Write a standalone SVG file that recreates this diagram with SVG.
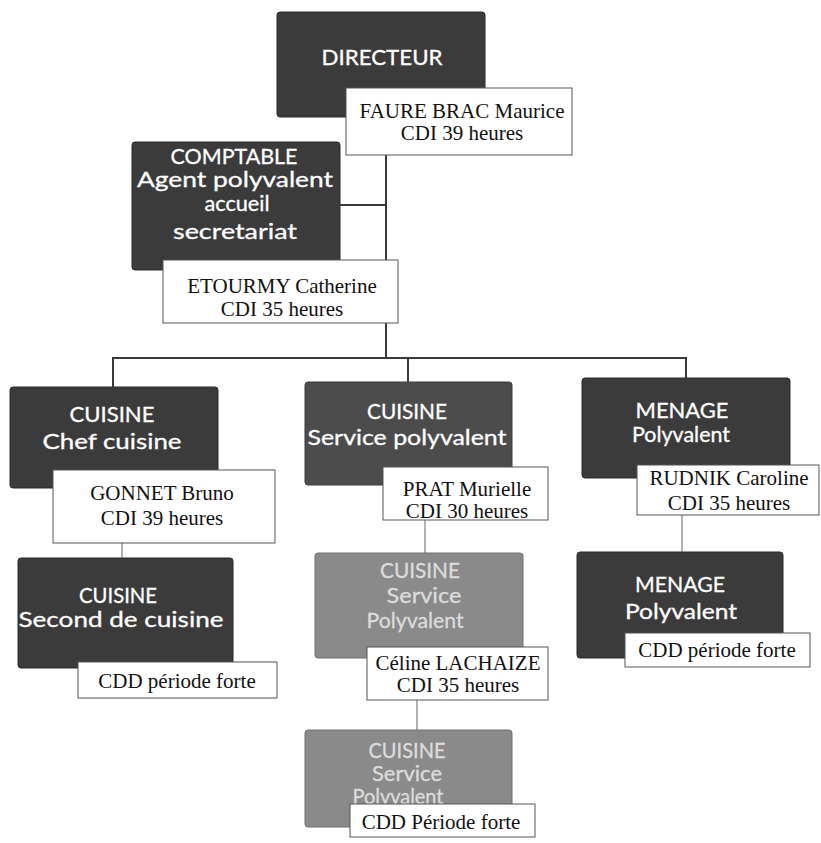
<svg xmlns="http://www.w3.org/2000/svg" width="821" height="843" viewBox="0 0 821 843">
<style>
.dark{fill:#3b3b3b;stroke:#2a2a2a;stroke-width:1}
.mid{fill:#4c4c4c;stroke:#3a3a3a;stroke-width:1}
.light{fill:#8a8a8a;stroke:#6e6e6e;stroke-width:1}
.lab{fill:#ffffff;stroke:#555;stroke-width:1}
.t{font-family:Lato,"Liberation Sans",sans-serif;font-size:21px;fill:#ffffff;stroke:#ffffff;stroke-width:0.3;text-anchor:middle}
.tl{font-family:Lato,"Liberation Sans",sans-serif;font-size:21px;fill:#dcdcdc;stroke:#dcdcdc;stroke-width:0.3;text-anchor:middle}
.s{font-family:"Liberation Serif",serif;font-size:21px;fill:#111;text-anchor:middle}
.c{fill:none;stroke:#3a3a3a;stroke-width:2}
.c2{fill:none;stroke:#9a9a9a;stroke-width:1.5}
</style>
<rect width="821" height="843" fill="#ffffff"/>
<g id="connectors">
<path class="c" d="M386,155 V358"/>
<path class="c" d="M340,205 H386"/>
<path class="c" d="M113,387 V358 H686 V378"/>
<path class="c" d="M408,358 V382"/>
<path class="c2" d="M122,543 V558"/>
<path class="c2" d="M425,520 V553"/>
<path class="c2" d="M682,515 V552"/>
<path class="c2" d="M417,700 V730"/>
</g>
<g id="directeur">
<rect class="dark" x="277" y="12" width="208" height="105" rx="3"/>
<text class="t" x="382" y="65" textLength="121" lengthAdjust="spacingAndGlyphs">DIRECTEUR</text>
<rect class="lab" x="346" y="88" width="226" height="67"/>
<text class="s" x="462" y="118">FAURE BRAC Maurice</text>
<text class="s" x="462" y="140">CDI 39 heures</text>
</g>
<g id="comptable">
<rect class="dark" x="132" y="142" width="208" height="128" rx="3"/>
<text class="t" x="234" y="164" textLength="127" lengthAdjust="spacingAndGlyphs">COMPTABLE</text>
<text class="t" x="235" y="187" textLength="196" lengthAdjust="spacingAndGlyphs">Agent polyvalent</text>
<text class="t" x="237" y="211" textLength="65" lengthAdjust="spacingAndGlyphs">accueil</text>
<text class="t" x="235" y="239" textLength="124" lengthAdjust="spacingAndGlyphs">secretariat</text>
<rect class="lab" x="163" y="260" width="235" height="63"/>
<text class="s" x="282" y="293">ETOURMY Catherine</text>
<text class="s" x="282" y="316">CDI 35 heures</text>
</g>
<g id="chef-cuisine">
<rect class="dark" x="10" y="387" width="208" height="101" rx="3"/>
<text class="t" x="112" y="422" textLength="85" lengthAdjust="spacingAndGlyphs">CUISINE</text>
<text class="t" x="112" y="449" textLength="139" lengthAdjust="spacingAndGlyphs">Chef cuisine</text>
<rect class="lab" x="53" y="470" width="222" height="73"/>
<text class="s" x="162" y="500">GONNET Bruno</text>
<text class="s" x="162" y="525">CDI 39 heures</text>
</g>
<g id="service-polyvalent">
<rect class="mid" x="305" y="382" width="207" height="103" rx="3"/>
<text class="t" x="407" y="419" textLength="80" lengthAdjust="spacingAndGlyphs">CUISINE</text>
<text class="t" x="407" y="445" textLength="199" lengthAdjust="spacingAndGlyphs">Service polyvalent</text>
<rect class="lab" x="383" y="467" width="165" height="53"/>
<text class="s" x="467" y="496">PRAT Murielle</text>
<text class="s" x="467" y="518">CDI 30 heures</text>
</g>
<g id="menage-1">
<rect class="dark" x="582" y="378" width="208" height="100" rx="3"/>
<text class="t" x="682" y="418" textLength="93" lengthAdjust="spacingAndGlyphs">MENAGE</text>
<text class="t" x="681" y="442" textLength="98" lengthAdjust="spacingAndGlyphs">Polyvalent</text>
<rect class="lab" x="637" y="465" width="182" height="50"/>
<text class="s" x="729" y="485">RUDNIK Caroline</text>
<text class="s" x="729" y="510">CDI 35 heures</text>
</g>
<g id="second-cuisine">
<rect class="dark" x="18" y="558" width="215" height="110" rx="3"/>
<text class="t" x="118" y="603" textLength="78" lengthAdjust="spacingAndGlyphs">CUISINE</text>
<text class="t" x="121" y="627" textLength="205" lengthAdjust="spacingAndGlyphs">Second de cuisine</text>
<rect class="lab" x="78" y="662" width="199" height="36"/>
<text class="s" x="177" y="688">CDD période forte</text>
</g>
<g id="service-polyvalent-2">
<rect class="light" x="315" y="553" width="208" height="105" rx="3"/>
<text class="tl" x="420" y="578" textLength="80" lengthAdjust="spacingAndGlyphs">CUISINE</text>
<text class="tl" x="424" y="603" textLength="75" lengthAdjust="spacingAndGlyphs">Service</text>
<text class="tl" x="415" y="628" textLength="97" lengthAdjust="spacingAndGlyphs">Polyvalent</text>
<rect class="lab" x="367" y="647" width="181" height="53"/>
<text class="s" x="458" y="670">Céline LACHAIZE</text>
<text class="s" x="458" y="692">CDI 35 heures</text>
</g>
<g id="menage-2">
<rect class="dark" x="577" y="552" width="206" height="106" rx="3"/>
<text class="t" x="680" y="592" textLength="90" lengthAdjust="spacingAndGlyphs">MENAGE</text>
<text class="t" x="681" y="619" textLength="112" lengthAdjust="spacingAndGlyphs">Polyvalent</text>
<rect class="lab" x="625" y="633" width="185" height="34"/>
<text class="s" x="717" y="657">CDD période forte</text>
</g>
<g id="service-polyvalent-3">
<rect class="light" x="305" y="730" width="207" height="97" rx="3"/>
<text class="tl" x="407" y="758" textLength="77" lengthAdjust="spacingAndGlyphs">CUISINE</text>
<text class="tl" x="407" y="781" textLength="70" lengthAdjust="spacingAndGlyphs">Service</text>
<text class="tl" x="398" y="804" textLength="91" lengthAdjust="spacingAndGlyphs">Polyvalent</text>
<rect class="lab" x="350" y="804" width="185" height="33"/>
<text class="s" x="441" y="829">CDD Période forte</text>
</g>
</svg>
